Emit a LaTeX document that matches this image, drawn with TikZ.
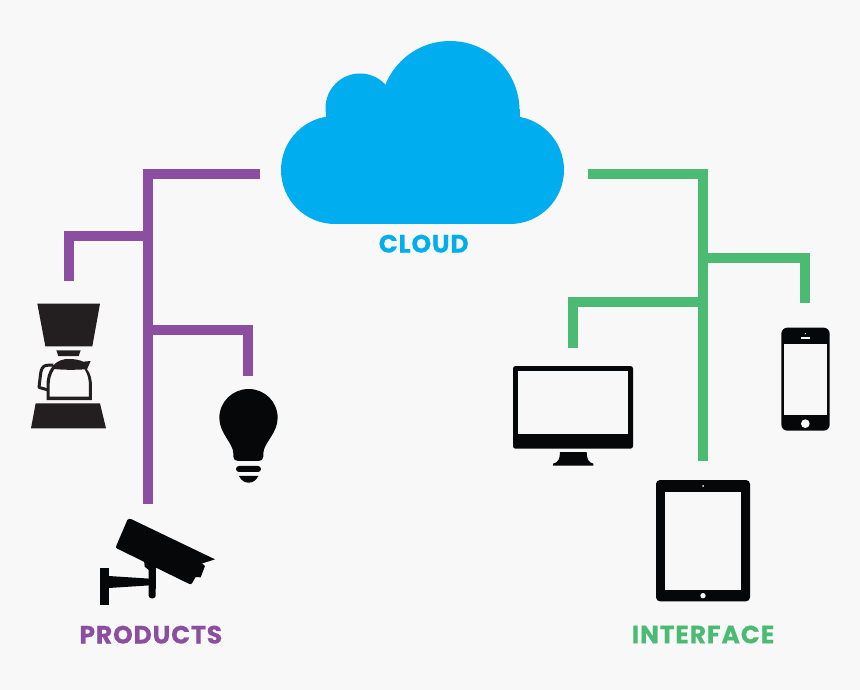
\documentclass[tikz,border=0pt]{standalone}
\usepackage{fontspec}
\setmainfont{Poppins}[BoldFeatures={FakeBold=0.35,LetterSpace=3.5}]
\definecolor{bgc}{HTML}{F8F8F8}
\definecolor{purp}{HTML}{8B4EA0}
\definecolor{grn}{HTML}{4BBB73}
\definecolor{cyn}{HTML}{00AEEF}
\definecolor{blk}{HTML}{060708}
\definecolor{brw}{HTML}{231F20}
\tikzset{
  anchorbox/.style={inner sep=0pt,outer sep=0pt,minimum width=#1,minimum height=20pt},
  link/.style={line width=10.5pt,line cap=butt,line join=miter},
  caption/.style={inner sep=0pt,outer sep=0pt,anchor=base,font=\fontsize{25}{25}\selectfont\bfseries},
  hole/.style={fill=bgc}
}
\begin{document}
\begin{tikzpicture}[x=1pt,y=-1pt]
\useasboundingbox (0,0) rectangle (860,690);
\fill[bgc] (0,0) rectangle (860,690);

% cloud
\fill[cyn] (335,170) circle[radius=54];
\fill[cyn] (510,170) circle[radius=54];
\fill[cyn] (450,110.5) circle[radius=69.5];
\fill[cyn] (360,108) circle[radius=34.5];
\fill[cyn] (335,116) rectangle (510,224);
\fill[cyn] (326,109) rectangle (519.5,130);

% invisible anchor boxes
\node[anchorbox=328pt] (cloud) at (424,174) {};
\node[anchorbox=70pt,anchor=north] (coffee) at (69,281) {};
\node[anchorbox=60pt,anchor=north] (bulb) at (248,376) {};
\node[anchorbox=110pt,anchor=north] (camera) at (148,504) {};
\node[anchorbox=120pt,anchor=north] (monitor) at (573,348) {};
\node[anchorbox=94pt,anchor=north] (tablet) at (703,461) {};
\node[anchorbox=48pt,anchor=north] (phone) at (805,303) {};
\coordinate (pa) at (148,236);
\coordinate (pb) at (148,330);
\coordinate (ga) at (703,258);
\coordinate (gb) at (703,302);

% connectors
\draw[link,purp] (cloud.west) -| (camera.north);
\draw[link,purp] (pa) -| (coffee.north);
\draw[link,purp] (pb) -| (bulb.north);
\draw[link,grn] (cloud.east) -| (tablet.north);
\draw[link,grn] (ga) -| (phone.north);
\draw[link,grn] (gb) -| (monitor.north);

% coffee maker
\begin{scope}[shift={(20,290)},scale=1/3]
\fill[brw] (52,41) -- (240,41) -- (217,169) -- (76,169) -- cycle;
\fill[brw] (109,181) -- (182,181) -- (176,198) -- (115,198) -- cycle;
\fill[brw] (47,340) -- (240,340) -- (258,415) -- (33,415) -- cycle;
\fill[brw,even odd rule]
  (80,330) -- (80,290) .. controls (78,265) and (85,245) .. (98,228)
  .. controls (112,212) and (130,206) .. (148,207)
  .. controls (165,207) and (178,210) .. (190,215) -- (212,213) -- (201,238)
  .. controls (212,250) and (216,270) .. (216,290) -- (216,330) -- cycle
  (89,320) -- (207,320) -- (207,290)
  .. controls (207,268) and (203,252) .. (194,238)
  .. controls (165,240) and (130,240) .. (103,237)
  .. controls (93,252) and (88,268) .. (89,290) -- cycle;
\draw[brw,line width=3pt,line join=round]
  (100,225) -- (78,226) .. controls (68,228) and (63,240) .. (62,250)
  -- (57,292) -- (84,300);
\end{scope}

% bulb
\begin{scope}[shift={(20,290)},scale=1/3]
\fill[blk] (640,500) -- (640,490)
  .. controls (640,460) and (598,430) .. (598,384)
  .. controls (598,335) and (638,297) .. (686,297)
  .. controls (734,297) and (773,335) .. (773,384)
  .. controls (773,430) and (730,460) .. (730,490)
  -- (730,500) .. controls (730,508) and (724,513) .. (716,513)
  -- (654,513) .. controls (646,513) and (640,508) .. (640,500) -- cycle;
\fill[blk,rounded corners=3pt] (648,528) rectangle (723,546);
\fill[blk] (657,558) -- (715,558) .. controls (708,572) and (698,578) .. (686,578)
  .. controls (674,578) and (664,572) .. (657,558) -- cycle;
\end{scope}

% camera
\begin{scope}[shift={(70,500)},scale=1/3]
\fill[blk] (172,60) .. controls (175,56) and (180,55) .. (185,58)
  -- (435,178) -- (407,187) -- (396,190) -- (405,198) -- (392,232) -- (377,231)
  -- (366,250) .. controls (364,253) and (360,253) .. (356,251)
  -- (142,146) .. controls (138,144) and (137,141) .. (139,137) -- cycle;
\fill[blk] (222,180) -- (258,200) -- (257,288) .. controls (256,298) and (237,298) .. (236,288) -- (236,210) -- (224,200) -- cycle;
\fill[blk] (116,228) -- (240,236) -- (240,256) -- (116,264) -- cycle;
\fill[blk] (90,205) rectangle (116,315);
\end{scope}

% monitor
\begin{scope}[shift={(500,320)},scale=1/3]
\fill[blk,rounded corners=2.5pt] (39,138) rectangle (399,386);
\fill[hole] (55,153) rectangle (385,342);
\fill[blk] (180,396) -- (260,396) .. controls (260,415) and (265,428) .. (280,431) -- (280,437) -- (159,437) -- (159,431) .. controls (175,428) and (180,415) .. (180,396) -- cycle;
\end{scope}

% phone
\begin{scope}[shift={(500,320)},scale=1/3]
\fill[blk,rounded corners=6pt] (844,23) rectangle (989,332);
\fill[hole] (853,72) rectangle (980,286);
\fill[hole] (903,52) rectangle (931,56);
\fill[hole] (916,41) circle[radius=2.2];
\fill[hole] (916,311) circle[radius=13];
\end{scope}

% tablet
\begin{scope}[shift={(620,470)},scale=1/3]
\fill[blk,rounded corners=4pt] (108,30) rectangle (390,394);
\fill[hole] (136,65) rectangle (363,360);
\fill[hole] (249,48) circle[radius=3];
\fill[hole] (249,377) circle[radius=8];
\end{scope}

% captions
\node[caption,text=cyn] (cloudlabel) at (423.7,252.5) {CLOUD};
\node[caption,text=purp] (productslabel) at (150.8,643.5) {PRODUCTS};
\node[caption,text=grn] (interfacelabel) at (703,643.3) {INTERFACE};
\end{tikzpicture}
\end{document}
